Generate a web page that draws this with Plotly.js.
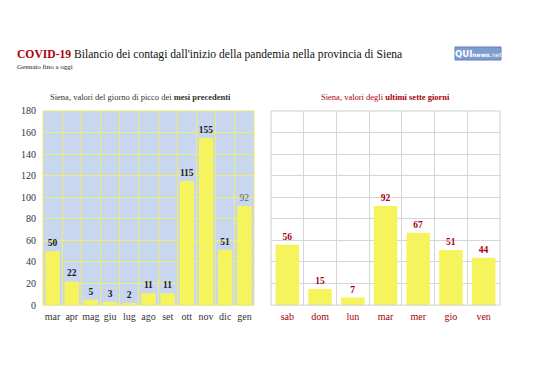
<!DOCTYPE html>
<html><head><meta charset="utf-8">
<script src="https://cdn.plot.ly/plotly-3.0.1.min.js"></script>
<style>body{margin:0;background:#fff}#c{width:538px;height:380px}</style>
</head><body><div id="c"></div>
<script>
const months = ['mar','apr','mag','giu','lug','ago','set','ott','nov','dic','gen'];
const monthPeaks = [50,22,5,3,2,11,11,115,155,51,92];
const days = ['sab','dom','lun','mar','mer','gio','ven'];
const dayValues = [56,15,7,92,67,51,44];
const yTicks = [0,20,40,60,80,100,120,140,160,180];

const serif = 'Liberation Serif, Times New Roman, serif';
const yellow = '#f6f45c';
const darkRed = '#a8000c';

const leftText = monthPeaks.map((v,i)=> i===monthPeaks.length-1 ? String(v) : '<b>'+v+'</b>');
const leftTextColor = monthPeaks.map((v,i)=> i===monthPeaks.length-1 ? '#666' : '#1a1a2a');

const traces = [
  {type:'bar', x:months, y:monthPeaks, xaxis:'x', yaxis:'y', marker:{color:yellow}, width:0.75,
   text:leftText, textposition:'outside', cliponaxis:false,
   textfont:{family:serif, size:9.5, color:leftTextColor}, hoverinfo:'none'},
  {type:'bar', x:days, y:dayValues, xaxis:'x3', yaxis:'y3', marker:{color:yellow}, width:0.72,
   text:dayValues.map(v=>'<b>'+v+'</b>'), textposition:'outside', cliponaxis:false,
   textfont:{family:serif, size:9.5, color:darkRed}, hoverinfo:'none'},
  {type:'scatter', x:[0], y:[0], xaxis:'x2', yaxis:'y', mode:'markers', marker:{opacity:0}, hoverinfo:'none'},
  {type:'scatter', x:[0], y:[0], xaxis:'x4', yaxis:'y3', mode:'markers', marker:{opacity:0}, hoverinfo:'none'}
];

const yd = [0.197, 0.708];
const layout = {
  width:538, height:380, margin:{l:0,r:0,t:0,b:0}, showlegend:false,
  paper_bgcolor:'#fff', plot_bgcolor:'rgba(0,0,0,0)',
  font:{family:serif},
  shapes:[
    {type:'rect', xref:'x domain', yref:'y domain', x0:0, x1:1, y0:0, y1:1, fillcolor:'#c8d6f0', line:{width:0}, layer:'below'},
    {type:'rect', xref:'x domain', yref:'y domain', x0:0, x1:1, y0:0, y1:1, line:{color:'#e8e870', width:1}, layer:'above'},
    {type:'rect', xref:'x3 domain', yref:'y3 domain', x0:0, x1:1, y0:0, y1:1, line:{color:'#cfcfcf', width:1}, layer:'above'},
    {type:'rect', xref:'paper', yref:'paper', x0:455/538, x1:501/538, y0:1-60/380, y1:1-47/380, fillcolor:'#7d9cd0', line:{color:'#5f7fb8', width:1}}
  ],
  xaxis:{domain:[43/538,254/538], type:'category', anchor:'y', showgrid:false, zeroline:false,
    tickfont:{family:serif, size:10, color:'#333'}, ticks:'', showline:false, ticklabelstandoff:4},
  xaxis2:{domain:[43/538,254/538], overlaying:'x', range:[-0.5,10.5], tick0:0.5, dtick:1, anchor:'y',
    showticklabels:false, showgrid:true, gridcolor:'#eeee6a', gridwidth:1, zeroline:false, showline:false, layer:'below traces'},
  yaxis:{domain:yd, range:[0,180], tickvals:yTicks, showgrid:true, gridcolor:'#eeee6a', zeroline:false,
    tickfont:{family:serif, size:10, color:'#333'}, ticks:'', showline:false, anchor:'x', layer:'below traces', ticklabelstandoff:6},
  xaxis3:{domain:[271/538,500/538], type:'category', anchor:'y3', showgrid:false, zeroline:false,
    tickfont:{family:serif, size:10, color:darkRed}, ticks:'', showline:false, ticklabelstandoff:4},
  xaxis4:{domain:[271/538,500/538], overlaying:'x3', range:[-0.5,6.5], tick0:0.5, dtick:1, anchor:'y3',
    showticklabels:false, showgrid:true, gridcolor:'#d6d6d6', gridwidth:1, zeroline:false, layer:'below traces'},
  yaxis3:{domain:yd, range:[0,180], tickvals:yTicks, showgrid:true, gridcolor:'#d6d6d6', zeroline:false,
    showticklabels:false, ticks:'', showline:false, anchor:'x3', layer:'below traces'},
  annotations:[
    {xref:'paper', yref:'paper', x:15/538, y:1-54/380, xanchor:'left', yanchor:'middle', showarrow:false,
     text:'<b><span style="color:#a8000c">COVID-19</span></b> Bilancio dei contagi dall\'inizio della pandemia nella provincia di Siena',
     font:{family:serif, size:11.6, color:'#111'}},
    {xref:'paper', yref:'paper', x:15/538, y:1-67/380, xanchor:'left', yanchor:'middle', showarrow:false,
     text:'Gennaio fino a oggi', font:{family:serif, size:7, color:'#222'}},
    {xref:'paper', yref:'paper', x:140/538, y:1-97/380, xanchor:'center', yanchor:'middle', showarrow:false,
     text:'Siena, valori del giorno di picco dei <b>mesi precedenti</b>', font:{family:serif, size:8.5, color:'#333'}},
    {xref:'paper', yref:'paper', x:385/538, y:1-97/380, xanchor:'center', yanchor:'middle', showarrow:false,
     text:'Siena, valori degli <b>ultimi sette giorni</b>', font:{family:serif, size:8.5, color:darkRed}},
    {xref:'paper', yref:'paper', x:478/538, y:1-53.5/380, xanchor:'center', yanchor:'middle', showarrow:false,
     text:'<b>QUI</b><span style="font-size:6px"><b>news</b>.net</span>', font:{family:'DejaVu Sans, sans-serif', size:8.5, color:'#fff'}}
  ]
};
Plotly.newPlot('c', traces, layout, {displayModeBar:false, staticPlot:true});
</script></body></html>
